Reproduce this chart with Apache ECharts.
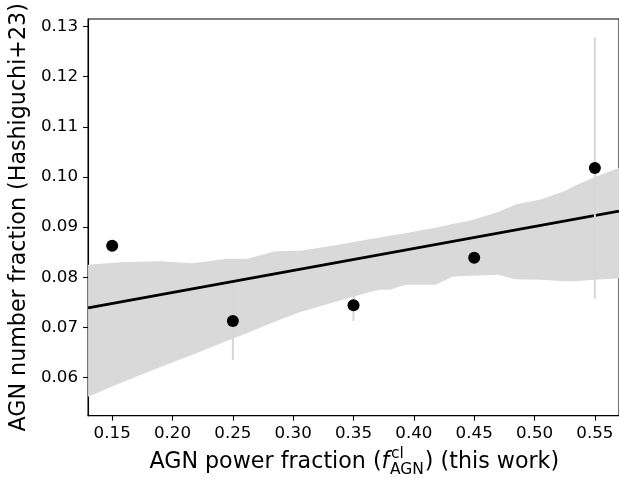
<!DOCTYPE html>
<html><head><meta charset="utf-8">
<script src="https://cdn.jsdelivr.net/npm/echarts@6/dist/echarts.min.js"></script>
<style>html,body{margin:0;padding:0;background:#fff}#c{width:619px;height:485px}</style>
</head><body><div id="c"></div>
<script>
// ---- data ----
const xTicks = [0.15, 0.20, 0.25, 0.30, 0.35, 0.40, 0.45, 0.50, 0.55];
const yTicks = [0.06, 0.07, 0.08, 0.09, 0.10, 0.11, 0.12, 0.13];
const pointX = [0.15, 0.25, 0.35, 0.45, 0.55];
const pointY = [0.0863, 0.0713, 0.0744, 0.0839, 0.1018];
const errLow = [0.0863, 0.0635, 0.0713, 0.0813, 0.0757];
const errHigh = [0.0863, 0.0787, 0.0776, 0.0863, 0.1278];
const fitX = [0.13, 0.57];
const fitY = [0.0739, 0.0932];
const bandX = [0.13, 0.157, 0.19, 0.217, 0.245, 0.262, 0.285, 0.306, 0.335, 0.363, 0.371, 0.38,
               0.393, 0.404, 0.418, 0.432, 0.445, 0.47, 0.484, 0.505, 0.525, 0.533, 0.55, 0.57];
const bandUpper = [0.0825, 0.0830, 0.0832, 0.0828, 0.0837, 0.0837, 0.0852, 0.0853, 0.0864, 0.0876, 0.0879, 0.0883,
                   0.0888, 0.0893, 0.0899, 0.0906, 0.0912, 0.0930, 0.0945, 0.0955, 0.0972, 0.0982, 0.1000, 0.1018];
const bandLower = [0.0562, 0.0589, 0.0621, 0.0646, 0.0673, 0.0689, 0.0712, 0.0731, 0.0751, 0.0770, 0.0775, 0.0775,
                   0.0785, 0.0785, 0.0785, 0.0801, 0.0803, 0.0805, 0.0796, 0.0795, 0.0792, 0.0792, 0.0795, 0.0798];
const yLabel = 'AGN number fraction (Hashiguchi+23)';
const xLabelPre = 'AGN power fraction (';
const xLabelVar = 'f';
const xLabelSup = 'cl';
const xLabelSub = 'AGN';
const xLabelPost = ') (this work)';

// ---- layout ----
const FONT = '"DejaVu Sans", sans-serif';
const TICK_FS = 16.7, LABEL_FS = 22.2, SUB_FS = 15.5;
const G = {left: 87.5, top: 19, width: 534, height: 396.7};

const chart = echarts.init(document.getElementById('c'), null, {renderer: 'canvas'});

// x label made of pieces (math text)
const ctx = document.createElement('canvas').getContext('2d');
function tw(t, fs, it) { ctx.font = (it ? 'italic ' : '') + fs + 'px ' + FONT; return ctx.measureText(t).width; }
const w1 = tw(xLabelPre, LABEL_FS), wf = tw(xLabelVar, LABEL_FS, true);
const wsup = tw(xLabelSup, SUB_FS), wsub = tw(xLabelSub, SUB_FS), w3 = tw(xLabelPost, LABEL_FS);
const total = w1 + wf + Math.max(wsup, wsub) + 1 + w3;
const cx = 354;
const baseY = 470.7;
let x0 = cx - total / 2;
// y given as text baseline; converted to top of text box
function txt(t, x, base, fs, it) {
  return {type: 'text', x: x, y: base - 0.76 * fs - 3, silent: true,
          style: {text: t, x: 0, y: 0, font: (it ? 'italic ' : '') + fs + 'px ' + FONT, fill: '#000',
                  align: 'left', verticalAlign: 'top'}};
}
const graphics = [];
graphics.push(txt(xLabelPre, x0, baseY, LABEL_FS));
graphics.push(txt(xLabelVar, x0 + w1, baseY, LABEL_FS, true));
const xs = x0 + w1 + wf + 0.5;
graphics.push(txt(xLabelSup, xs + 1, baseY - 9.7, SUB_FS));
graphics.push(txt(xLabelSub, xs, baseY + 6, SUB_FS));
graphics.push(txt(xLabelPost, xs + Math.max(wsup, wsub) + 1, baseY, LABEL_FS));

const option = {
  animation: false,
  backgroundColor: '#fff',
  grid: {left: G.left, top: G.top, width: G.width, height: G.height, show: true,
         borderColor: '#000', borderWidth: 1.1, backgroundColor: 'transparent'},
  xAxis: {
    type: 'value', min: 0.13, max: 0.57,
    splitLine: {show: false},
    axisLine: {show: true, lineStyle: {color: '#000', width: 1.1}},
    axisTick: {show: true, length: 5, lineStyle: {color: '#000', width: 1.1}, customValues: xTicks},
    axisLabel: {customValues: xTicks, formatter: v => v.toFixed(2), color: '#000',
                fontFamily: FONT, fontSize: TICK_FS, margin: 9}
  },
  yAxis: {
    type: 'value', min: 0.0524, max: 0.1315,
    splitLine: {show: false},
    axisLine: {show: true, lineStyle: {color: '#000', width: 1.1}},
    axisTick: {show: true, length: 5, lineStyle: {color: '#000', width: 1.1}, customValues: yTicks},
    axisLabel: {customValues: yTicks, formatter: v => v.toFixed(2), color: '#000',
                fontFamily: FONT, fontSize: TICK_FS, margin: 10},
    name: yLabel, nameLocation: 'middle', nameGap: 46,
    nameTextStyle: {fontFamily: FONT, fontSize: LABEL_FS, color: '#000'}
  },
  graphic: graphics,
  series: [
    {
      type: 'custom', z: 1, clip: true, silent: true,
      data: [[bandX[0], bandUpper[0]]],
      renderItem: function (params, api) {
        const pts = [];
        for (let i = 0; i < bandX.length; i++) pts.push(api.coord([bandX[i], bandUpper[i]]));
        for (let i = bandX.length - 1; i >= 0; i--) pts.push(api.coord([bandX[i], bandLower[i]]));
        return {type: 'polygon', shape: {points: pts}, style: {fill: '#d9d9d9'}};
      }
    },
    {
      type: 'line', z: 2, silent: true, showSymbol: false, clip: true,
      data: fitX.map((x, i) => [x, fitY[i]]),
      lineStyle: {color: '#000', width: 2.8}
    },
    {
      type: 'custom', z: 3, silent: true,
      data: pointX.map((x, i) => [x, errLow[i], errHigh[i]]),
      encode: {x: 0, y: [1, 2]},
      renderItem: function (params, api) {
        const a = api.coord([api.value(0), api.value(1)]);
        const b = api.coord([api.value(0), api.value(2)]);
        return {type: 'line', shape: {x1: a[0], y1: a[1], x2: b[0], y2: b[1]},
                style: {stroke: '#d6d6d6', lineWidth: 2}};
      }
    },
    {
      type: 'scatter', z: 4, silent: true, symbolSize: 12,
      data: pointX.map((x, i) => [x, pointY[i]]),
      itemStyle: {color: '#000', opacity: 1}
    }
  ]
};
chart.setOption(option);
</script>
</body></html>
